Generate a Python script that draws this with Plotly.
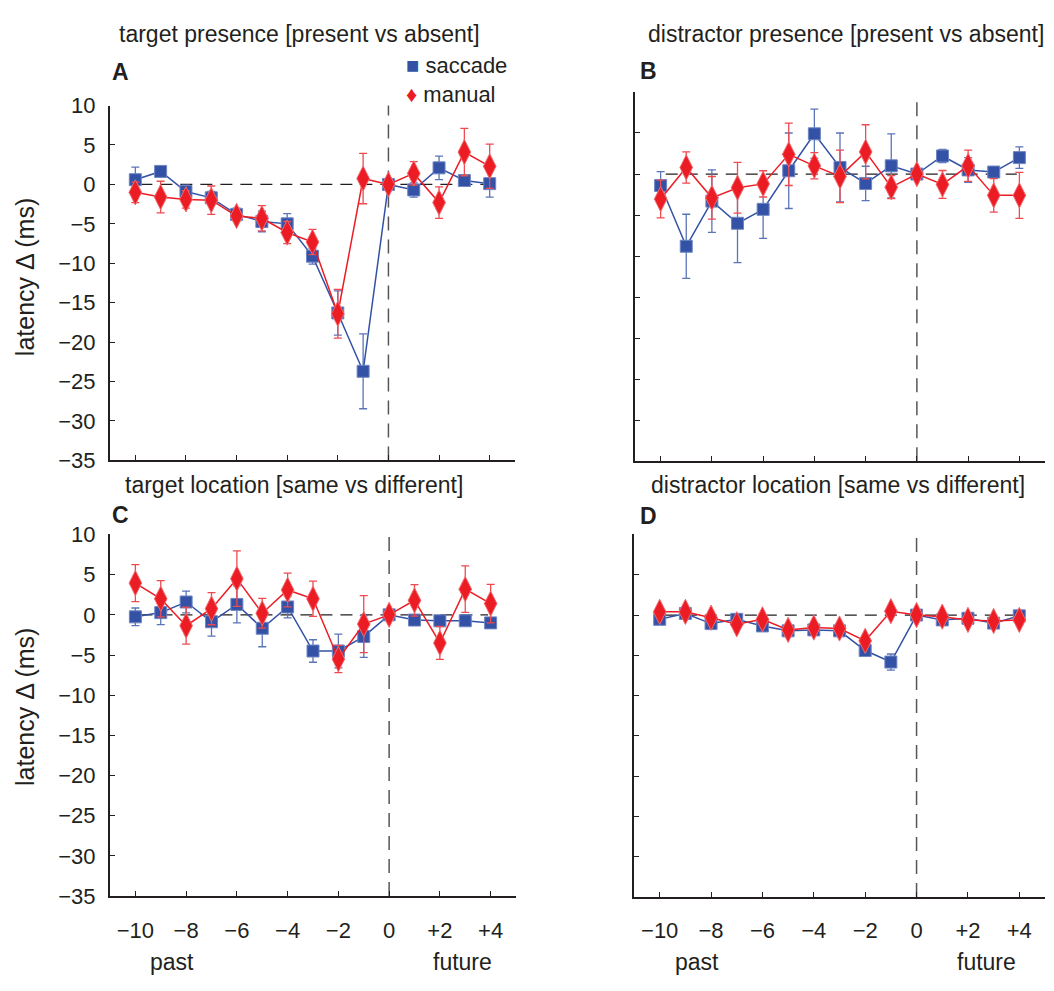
import plotly.graph_objects as go

# Trial lag relative to the current trial
lags = [-10, -9, -8, -7, -6, -5, -4, -3, -2, -1, 0, 1, 2, 3, 4]
lag_ticks = [-10, -8, -6, -4, -2, 0, 2, 4]
lag_ticktext = ["\u221210", "\u22128", "\u22126", "\u22124", "\u22122", "0", "+2", "+4"]

# A: target presence [present vs absent]
a_saccade = [0.6, 1.65, -0.9, -1.7, -3.8, -4.7, -5.0, -9.1, -16.3, -23.7, 0.0, -0.7, 2.1, 0.5, 0.1]
a_saccade_err = [1.6, 0.3, 0.8, 0.8, 0.8, 1.3, 1.3, 1.0, 2.8, 4.75, 0.0, 0.9, 1.5, 0.5, 1.7]
a_manual = [-1.0, -1.6, -1.9, -2.0, -4.0, -4.3, -6.1, -7.3, -16.4, 0.75, 0.0, 1.4, -2.3, 4.1, 2.3]
a_manual_err = [1.3, 2.0, 1.1, 1.8, 0.6, 1.6, 1.4, 1.6, 3.1, 3.2, 0.0, 1.5, 2.0, 3.0, 2.8]

# B: distractor presence [present vs absent]
b_saccade = [-1.4, -8.8, -3.3, -6.0, -4.3, 0.4, 4.9, 0.8, -1.15, 1.0, 0.0, 2.2, 0.5, 0.24, 2.0]
b_saccade_err = [1.7, 3.9, 3.8, 4.8, 3.55, 4.6, 3.0, 4.2, 2.1, 3.9, 0.0, 0.8, 1.5, 0.3, 1.3]
b_manual = [-3.05, 0.8, -2.9, -1.67, -1.2, 2.4, 1.0, -0.28, 2.7, -1.6, 0.0, -1.27, 1.0, -2.6, -2.6]
b_manual_err = [2.3, 1.9, 2.6, 3.1, 1.6, 3.8, 1.6, 3.2, 3.3, 1.4, 0.0, 1.7, 1.9, 2.05, 2.8]

# C: target location [same vs different]
c_saccade = [-0.25, 0.28, 1.6, -0.86, 1.3, -1.67, 0.98, -4.5, -4.5, -2.7, 0.0, -0.65, -0.74, -0.74, -1.0]
c_saccade_err = [1.1, 1.5, 1.35, 1.8, 2.3, 2.3, 1.35, 1.4, 2.1, 2.6, 0.0, 0.3, 0.3, 0.3, 0.3]
c_manual = [3.95, 2.0, -1.35, 0.77, 4.5, 0.2, 3.1, 2.0, -5.5, -1.15, 0.0, 1.8, -3.5, 3.2, 1.4]
c_manual_err = [2.3, 2.25, 2.3, 2.0, 3.45, 1.85, 2.1, 2.2, 1.7, 3.55, 0.0, 1.95, 2.05, 2.9, 2.4]

# D: distractor location [same vs different]
d_saccade = [-0.53, 0.2, -1.06, -0.53, -1.35, -1.96, -1.84, -1.96, -4.4, -5.83, 0.0, -0.6, -0.4, -1.0, -0.1]
d_saccade_err = [0.5, 0.5, 0.5, 0.5, 0.5, 0.5, 0.5, 0.5, 0.6, 1.0, 0.0, 0.5, 0.5, 0.5, 0.5]
d_manual = [0.4, 0.4, -0.33, -1.15, -0.53, -1.84, -1.55, -1.67, -3.2, 0.48, 0.0, -0.2, -0.6, -0.74, -0.6]
d_manual_err = [0.5, 0.5, 0.5, 0.5, 0.5, 0.5, 0.5, 0.5, 0.6, 0.5, 0.0, 0.5, 0.5, 0.5, 0.5]

panel_titles = ["target presence [present vs absent]", "distractor presence [present vs absent]",
                "target location [same vs different]", "distractor location [same vs different]"]
panel_letters = ["A", "B", "C", "D"]
series_names = ["saccade", "manual"]
y_label = "latency \u0394 (ms)"

BLUE = "#3352a5"
BLUE_ERR = "#5a74b8"
RED = "#ec1c24"
RED_ERR = "#ee4a50"
INK = "#231f20"
FONT = "Liberation Sans, Arial, sans-serif"

W, H = 1054, 991


def px(x):
    return x / W


def py(y):
    return 1 - y / H


panels = [
    (a_saccade, a_saccade_err, a_manual, a_manual_err),
    (b_saccade, b_saccade_err, b_manual, b_manual_err),
    (c_saccade, c_saccade_err, c_manual, c_manual_err),
    (d_saccade, d_saccade_err, d_manual, d_manual_err),
]

# plot areas in pixels: (left, right, top, bottom)
boxes = [(110, 515, 96, 460), (635, 1045, 82, 461), (110, 516, 536, 907), (634, 1045, 536, 908)]

fig = go.Figure()

for i, (sac, sac_err, man, man_err) in enumerate(panels):
    n = "" if i == 0 else str(i + 1)
    xa, ya = "x" + n, "y" + n
    fig.add_trace(go.Scatter(
        x=lags, y=sac, xaxis=xa, yaxis=ya, mode="lines+markers", name=series_names[0],
        showlegend=False,
        line=dict(color=BLUE, width=1.5),
        marker=dict(symbol="square", size=12, color=BLUE, line=dict(color="#6f86c4", width=1)),
        error_y=dict(type="data", array=sac_err, visible=True, color=BLUE_ERR, thickness=1.3, width=4),
    ))
    fig.add_trace(go.Scatter(
        x=lags, y=man, xaxis=xa, yaxis=ya, mode="lines+markers", name=series_names[1],
        showlegend=False,
        line=dict(color=RED, width=1.5),
        marker=dict(symbol="diamond-tall", size=18, color=RED, line=dict(color="#f26a6f", width=1)),
        error_y=dict(type="data", array=man_err, visible=True, color=RED_ERR, thickness=1.3, width=4),
    ))

layout = dict(
    width=W, height=H, margin=dict(l=0, r=0, t=0, b=0),
    paper_bgcolor="white", plot_bgcolor="white",
    font=dict(family=FONT, color=INK, size=22),
    showlegend=False,
)

shapes = []
annotations = []
for i, (l, r, t, b) in enumerate(boxes):
    n = "" if i == 0 else str(i + 1)
    bottom_row = i >= 2
    left_col = i % 2 == 0
    layout["xaxis" + n] = dict(
        domain=[px(l), px(r)], range=[-11, 5], anchor="y" + n,
        showline=True, linewidth=2, linecolor=INK, mirror=False,
        showgrid=False, zeroline=False,
        ticks="inside", ticklen=5, tickwidth=1, tickcolor=INK,
        tickvals=lag_ticks, ticktext=lag_ticktext, showticklabels=bottom_row,
        tickfont=dict(size=22, color=INK), ticklabelstandoff=13,
    )
    layout["yaxis" + n] = dict(
        domain=[py(b), py(t)], range=[-35, 10], anchor="x" + n,
        showline=True, linewidth=2, linecolor=INK, mirror=False,
        showgrid=False, zeroline=False,
        ticks="inside", ticklen=5, tickwidth=1, tickcolor=INK,
        tick0=-35, dtick=5, showticklabels=left_col,
        tickfont=dict(size=22, color=INK), ticklabelstandoff=8,
    )
    # reference line at zero change
    shapes.append(dict(type="line", xref="x" + n, yref="y" + n, x0=-9.8, x1=3.9, y0=0, y1=0,
                       line=dict(color=INK, width=1.2, dash="12px,8px"), layer="below"))
    # boundary between past and future trials
    shapes.append(dict(type="line", xref="x" + n, yref="y" + n, x0=0, x1=0, y0=-35,
                       y1=9.2 if i == 1 else 10.4,
                       line=dict(color="#555555", width=1.5, dash="14px,9px"), layer="below"))

title_pos = [(299, 23), (846, 23), (294, 485), (838, 485)]
letter_pos = [(110, 62), (638, 61), (110, 516), (638, 517)]
for i in range(4):
    annotations.append(dict(text=panel_titles[i], xref="paper", yref="paper",
                            x=px(title_pos[i][0]), y=py(title_pos[i][1]),
                            xanchor="center", yanchor="middle", showarrow=False,
                            font=dict(size=23, color=INK)))
    annotations.append(dict(text="<b>" + panel_letters[i] + "</b>", xref="paper", yref="paper",
                            x=px(letter_pos[i][0]), y=py(letter_pos[i][1]),
                            xanchor="left", yanchor="middle", showarrow=False,
                            font=dict(size=23, color=INK)))

# y-axis titles
for yc in (272, 713):
    annotations.append(dict(text=y_label, xref="paper", yref="paper", x=px(25), y=py(yc),
                            xanchor="center", yanchor="middle", textangle=-90, showarrow=False,
                            font=dict(size=25, color=INK)))

# past / future labels under the bottom row
for cx_past, cx_future in ((172, 462), (697, 986)):
    annotations.append(dict(text="past", xref="paper", yref="paper", x=px(cx_past), y=py(975),
                            xanchor="center", yanchor="middle", showarrow=False,
                            font=dict(size=23, color=INK)))
    annotations.append(dict(text="future", xref="paper", yref="paper", x=px(cx_future), y=py(975),
                            xanchor="center", yanchor="middle", showarrow=False,
                            font=dict(size=23, color=INK)))

# key for the two response types, as one two-line block
key_text = (f'<span style="color:{BLUE}">\u25A0</span> ' + series_names[0] + "<br>"
            + f'<span style="color:{RED}">\u2666</span> ' + series_names[1])
annotations.append(dict(text=key_text, xref="paper", yref="paper", x=px(404), y=py(70),
                        xanchor="left", yanchor="middle", align="left", showarrow=False,
                        font=dict(size=22, color=INK)))

layout["shapes"] = shapes
layout["annotations"] = annotations
fig.update_layout(**layout)

fig.write_html("out.html")
